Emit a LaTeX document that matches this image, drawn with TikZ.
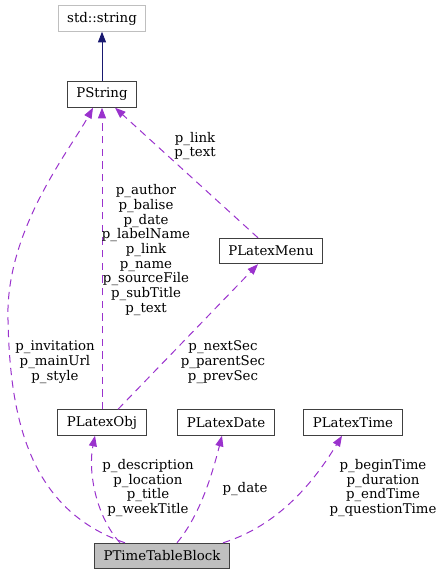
\documentclass[tikz,border=0pt]{standalone}
\usepackage{fontspec}
\setmainfont{DejaVu Serif}
\usepackage{tikz,xcolor}
\usetikzlibrary{arrows.meta}
\usetikzlibrary{calc}
\definecolor{use edge}{HTML}{9A32CD}
\definecolor{inherit edge}{HTML}{191970}
\definecolor{class edge}{HTML}{404040}
\tikzstyle{klass} = [draw=class edge, line width=0.8pt, minimum height=19pt, inner xsep=6.8pt, font=\fontsize{10pt}{11pt}\selectfont]
\tikzset{uses/.style={draw=use edge, line width=0.75pt, dash pattern=on 5.5pt off 4pt, -{Triangle[length=8pt,width=6pt]}},
    inherit/.style={draw=inherit edge, line width=0.75pt, -{Triangle[length=8pt,width=6pt]}},
    members/.style={align=center, inner sep=0pt, font=\fontsize{10pt}{11pt}\selectfont}}

\begin{document}
\begin{tikzpicture}[x=0.75pt,y=-0.75pt]
    \useasboundingbox (0,0) rectangle (442,575);
    % Definition of classes
    \node[klass, draw=gray!50] (stdstr) at (102,18.5) {std::string};
    \node[klass] (pstr) at (102,94.5) {PString};
    \node[klass] (menu) at (271,251) {PLatexMenu};
    \node[klass] (obj) at (102,422.5) {PLatexObj};
    \node[klass] (date) at (226,422.5) {PLatexDate};
    \node[klass] (time) at (353,422.5) {PLatexTime};
    \node[klass, fill=gray!50] (block) at (162,556) {PTimeTableBlock};
    %
    \draw[inherit] (pstr) -- (stdstr);
    \draw[uses] (obj) -- (pstr);
    \draw[uses] ($(menu.north)+(-13,0)$) -- ($(pstr.south)+(13,0)$);
    \draw[uses] ($(obj.north)+(16,0)$) -- ($(menu.south)+(-13,0)$);
    \draw[uses] ($(block.north)+(-37,0)$) .. controls (30,510) and (10,420) .. (8,320)
        .. controls (5,230) and (70,150) .. ($(pstr.south)+(-9,0)$);
    \draw[uses] ($(block.north)+(-42,0)$) .. controls (95,515) and (88,470) .. ($(obj.south)+(-7,0)$);
    \draw[uses] ($(block.north)+(15,0)$) .. controls (200,515) and (212,475) .. ($(date.south)+(-4,0)$);
    \draw[uses] ($(block.north)+(61,0)$) .. controls (280,525) and (315,480) .. ($(time.south)+(-11,0)$);
    % Definition of member labels
    \node[members] (objlbl) at (146,250) {p\_author\\p\_balise\\p\_date\\p\_labelName\\p\_link\\p\_name\\p\_sourceFile\\p\_subTitle\\p\_text};
    \node[members] (menulbl) at (195,146) {p\_link\\p\_text};
    \node[members] (blklbl) at (55,362) {p\_invitation\\p\_mainUrl\\p\_style};
    \node[members] (seclbl) at (223,362) {p\_nextSec\\p\_parentSec\\p\_prevSec};
    \node[members] (desclbl) at (148,488) {p\_description\\p\_location\\p\_title\\p\_weekTitle};
    \node[members] (datelbl) at (245,489) {p\_date};
    \node[members] (timelbl) at (383,488) {p\_beginTime\\p\_duration\\p\_endTime\\p\_questionTime};
\end{tikzpicture}
\end{document}
